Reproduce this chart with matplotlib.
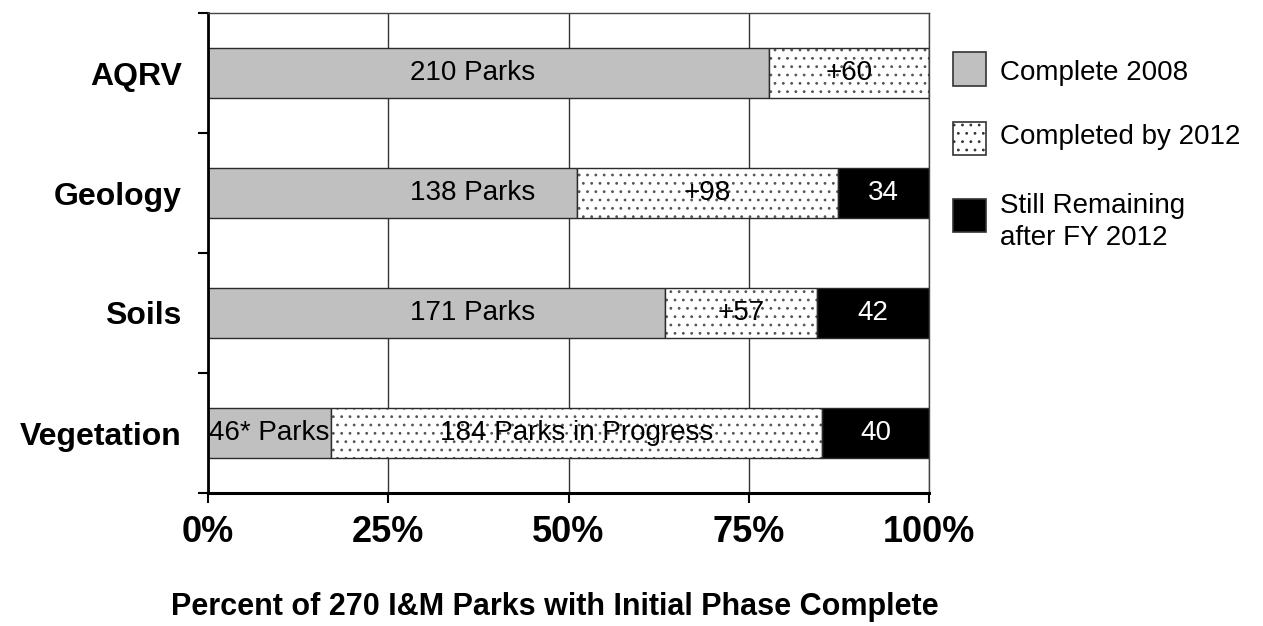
import matplotlib
matplotlib.use('Agg')
import matplotlib.pyplot as plt
import matplotlib.patches as patches

# -- data (number of parks out of 270)
totalParks = 270
categories = ['AQRV', 'Geology', 'Soils', 'Vegetation']
complete2008 = [210, 138, 171, 46]
completedBy2012 = [60, 98, 57, 184]
stillRemaining = [0, 34, 42, 40]
labels2008 = ['210 Parks', '138 Parks', '171 Parks', '46* Parks']
labels2012 = ['+60', '+98', '+57', '184 Parks in Progress']
labelsRemain = ['', '34', '42', '40']
xTicks = [0, 25, 50, 75, 100]
xTickLabels = ['0%', '25%', '50%', '75%', '100%']
legendLabels = ['Complete 2008', 'Completed by 2012', 'Still Remaining\nafter FY 2012']
xLabel = 'Percent of 270 I&M Parks with Initial Phase Complete'

# -- style
cGray = '#c0c0c0'
cDots = 'white'
cBlack = 'black'
cEdge = '#2b2b2b'
W, H = 1263, 626
plt.rcParams['font.family'] = ['Liberation Sans', 'DejaVu Sans']
plt.rcParams['hatch.linewidth'] = 0.8


def pct(vals):
    return [v / totalParks * 100 for v in vals]


def addLegend(fig):
    # square boxes (pixel rows from the top) and their labels
    boxes = [(52, 86), (122, 155), (199, 232)]
    styles = [dict(facecolor=cGray), dict(facecolor='white', hatch='..'), dict(facecolor=cBlack)]
    textY = [73, 137, 222]
    for (top, bot), st, lbl, ty in zip(boxes, styles, legendLabels, textY):
        r = patches.Rectangle((953 / W, 1 - bot / H), 33 / W, (bot - top) / H,
                              transform=fig.transFigure, edgecolor='#333333',
                              linewidth=1.2, **st)
        fig.add_artist(r)
        fig.text(1000 / W, 1 - ty / H, lbl, ha='left', va='center', fontsize=20,
                 linespacing=1.3)


def main():
    fig = plt.figure(figsize=(W / 100, H / 100), dpi=100)
    ax = fig.add_axes([208 / W, 133 / H, 721 / W, 480 / H])

    ypos = [3.5, 2.5, 1.5, 0.5]
    barH = 0.41
    p2008 = pct(complete2008)
    p2012 = pct(completedBy2012)
    pRem = pct(stillRemaining)
    left2012 = p2008
    leftRem = [a + b for a, b in zip(p2008, p2012)]

    # --bars
    ax.barh(ypos, p2008, height=barH, color=cGray, edgecolor=cEdge, linewidth=1, zorder=2)
    ax.barh(ypos, p2012, left=left2012, height=barH, color=cDots, edgecolor='#555555',
            hatch='..', linewidth=0, zorder=2)
    ax.barh(ypos, p2012, left=left2012, height=barH, fill=False, edgecolor=cEdge,
            linewidth=1, zorder=3)
    ax.barh(ypos, pRem, left=leftRem, height=barH, color=cBlack, edgecolor=cEdge,
            linewidth=1, zorder=2)

    # --bar labels
    for i in range(len(categories)):
        if p2008[i] > 30:
            x = 36.75
        else:
            x = p2008[i] / 2
        ax.text(x, ypos[i], labels2008[i], ha='center', va='center', fontsize=20, zorder=4)
        ax.text(left2012[i] + p2012[i] / 2, ypos[i], labels2012[i], ha='center',
                va='center', fontsize=20, zorder=4)
        if pRem[i] > 0:
            ax.text(leftRem[i] + pRem[i] / 2, ypos[i], labelsRemain[i], ha='center',
                    va='center', fontsize=20, color='white', zorder=4)

    # --axes
    ax.set_xlim(0, 100)
    ax.set_ylim(0, 4)
    ax.set_xticks(xTicks)
    ax.set_xticklabels(xTickLabels, fontweight='bold', fontsize=26)
    ax.tick_params(axis='x', direction='out', length=7.2, width=1.5, pad=9)
    ax.set_yticks([0, 1, 2, 3, 4])
    ax.set_yticklabels([])
    ax.tick_params(axis='y', which='major', direction='out', length=7.2, width=1.5)
    ax.set_yticks(ypos, categories, minor=True)
    ax.tick_params(axis='y', which='minor', length=0, pad=19)
    for lbl in ax.get_yticklabels(minor=True):
        lbl.set_fontweight('bold')
        lbl.set_fontsize(23)

    ax.xaxis.grid(True, color='#333333', linewidth=1)
    ax.set_axisbelow(True)
    ax.spines['left'].set_linewidth(2)
    ax.spines['bottom'].set_linewidth(2.2)
    ax.spines['top'].set_linewidth(1)
    ax.spines['top'].set_color('#444444')
    ax.spines['right'].set_linewidth(1)
    ax.spines['right'].set_color('#444444')

    fig.text(555 / W, 1 - 607 / H, xLabel, ha='center', va='center', fontsize=22,
             fontweight='bold')

    addLegend(fig)

    plt.savefig('out.png', dpi=100)


if __name__ == "__main__":
    main()
